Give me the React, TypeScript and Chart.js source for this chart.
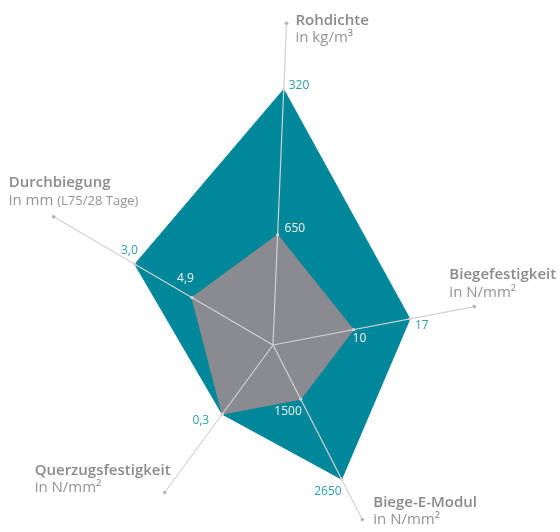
import React, { useEffect, useRef } from 'react';
import { Chart, registerables, RadialLinearScale } from 'chart.js';

// ---- data ----
const AXIS_TITLES = ['Rohdichte', 'Biegefestigkeit', 'Biege-E-Modul', 'Querzugsfestigkeit', 'Durchbiegung'];
const AXIS_UNITS = ['in kg/m³', 'in N/mm²', 'in N/mm²', 'in N/mm²', 'in mm'];
const AXIS_UNIT_NOTES = ['', '', '', '', '(L75/28 Tage)'];
// value found at the centre and at the outer end of each axis
const AXIS_FROM = [900, 0, 720, 0, 7.6];
const AXIS_TO = [170, 25, 3230, 0.64, 0.3];
const AXIS_DECIMALS = [0, 0, 0, 1, 1];

const OUTER_VALUES = [320, 17, 2650, 0.3, 3.0];
const INNER_VALUES = [650, 10, 1500, 0.3, 4.9];

// ---- style / layout ----
const AXIS_ANGLE_DEG = [2.4, 79.2, 152.9, 216.3, 300.3];
const AXIS_LENGTH = [322, 205, 196, 183, 254];
const R_MAX = 346;
const TEAL = '#00879a';
const GREY = '#898b90';
const TEAL_TEXT = '#2f9db0';
const INNER_TEXT = '#f2f2f2';
const TITLE_COLOR = '#8a8a8a';
const UNIT_COLOR = '#939393';
const AXIS_COLOR = '#d2d2d2';
const FONT = '"Open Sans", "DejaVu Sans", sans-serif';

// [dx, dy, align] relative to the vertex
const OUTER_LABEL_POS: any[] = [[5, -4, 'left'], [5, 7, 'left'], [0, 12, 'right'], [-13, 6, 'right'], [3, -14, 'right']];
const INNER_LABEL_POS: any[] = [[7, -6, 'left'], [-1, 9, 'left'], [1, 12, 'right'], null, [2, -19, 'right']];
// [dx, title baseline dy, unit baseline dy] relative to the axis end
const TITLE_POS = [[9, 2, 19], [-25, -28, -10], [11, -12, 5], [-130, -17, 0], [-45, -30, -12]];

class SkewedRadialScale extends RadialLinearScale {
  static id = 'skewedRadial';
  getIndexAngle(index: number) {
    const a = AXIS_ANGLE_DEG[index % AXIS_ANGLE_DEG.length];
    return (a * Math.PI) / 180;
  }
}

Chart.register(...registerables, SkewedRadialScale);

const fmt = (v: number, i: number) => v.toFixed(AXIS_DECIMALS[i]).replace('.', ',');

const overlayPlugin = {
  id: 'overlay',
  afterDatasetsDraw(chart: any) {
    const scale = chart.scales.r;
    const ctx = chart.ctx as CanvasRenderingContext2D;
    ctx.save();
    // axis lines
    AXIS_TITLES.forEach((_, i) => {
      const end = scale.getPointPosition(i, scale.getDistanceFromCenterForValue(AXIS_LENGTH[i]));
      ctx.beginPath();
      ctx.strokeStyle = AXIS_COLOR;
      ctx.lineWidth = 1.2;
      ctx.moveTo(scale.xCenter, scale.yCenter);
      ctx.lineTo(end.x, end.y);
      ctx.stroke();
      ctx.beginPath();
      ctx.fillStyle = '#b4b4b4';
      ctx.arc(end.x, end.y, 1.8, 0, Math.PI * 2);
      ctx.fill();
    });
    // value labels
    const drawValues = (dsIndex: number, values: number[], pos: any[], color: string) => {
      const meta = chart.getDatasetMeta(dsIndex);
      ctx.font = `400 12px ${FONT}`;
      ctx.fillStyle = color;
      ctx.textBaseline = 'middle';
      values.forEach((v, i) => {
        const p = pos[i];
        if (!p) return;
        const pt = meta.data[i];
        ctx.textAlign = p[2];
        ctx.fillText(fmt(v, i), pt.x + p[0], pt.y + p[1]);
      });
    };
    drawValues(1, OUTER_VALUES, OUTER_LABEL_POS, TEAL_TEXT);
    drawValues(0, INNER_VALUES, INNER_LABEL_POS, INNER_TEXT);
    // axis titles
    ctx.textBaseline = 'alphabetic';
    ctx.textAlign = 'left';
    AXIS_TITLES.forEach((title, i) => {
      const end = scale.getPointPosition(i, scale.getDistanceFromCenterForValue(AXIS_LENGTH[i]));
      const [dx, ty, uy] = TITLE_POS[i];
      const x = end.x + dx;
      ctx.font = `600 15px ${FONT}`;
      ctx.fillStyle = TITLE_COLOR;
      ctx.fillText(title, x, end.y + ty);
      ctx.font = `400 15px ${FONT}`;
      ctx.fillStyle = UNIT_COLOR;
      const unit = AXIS_UNITS[i];
      ctx.fillText(unit, x, end.y + uy);
      if (AXIS_UNIT_NOTES[i]) {
        const w = ctx.measureText(unit + ' ').width;
        ctx.font = `400 13px ${FONT}`;
        ctx.fillText(AXIS_UNIT_NOTES[i], x + w, end.y + uy);
      }
    });
    ctx.restore();
  },
};

const toRadius = (vals: number[]) =>
  vals.map((v, i) => ((v - AXIS_FROM[i]) / (AXIS_TO[i] - AXIS_FROM[i])) * AXIS_LENGTH[i]);

export default function App() {
  const ref = useRef<HTMLCanvasElement>(null);
  useEffect(() => {
    if (!ref.current) return;
    const chart = new Chart(ref.current, {
      type: 'radar',
      data: {
        labels: AXIS_TITLES,
        datasets: [
          {
            label: 'Vergleich',
            data: toRadius(INNER_VALUES),
            backgroundColor: GREY,
            borderColor: GREY,
            borderWidth: 1,
            fill: true,
            pointRadius: 1.6,
            pointBackgroundColor: '#d6d6d6',
            pointBorderWidth: 0,
          },
          {
            label: 'Produkt',
            data: toRadius(OUTER_VALUES),
            backgroundColor: TEAL,
            borderColor: TEAL,
            borderWidth: 1,
            fill: true,
            pointRadius: 1.6,
            pointBackgroundColor: '#cfcfcf',
            pointBorderWidth: 0,
          },
        ],
      },
      options: {
        animation: false,
        responsive: false,
        layout: { padding: 0 },
        plugins: { legend: { display: false }, tooltip: { enabled: false } },
        elements: { line: { tension: 0 } },
        scales: {
          r: {
            type: 'skewedRadial',
            min: 0,
            max: R_MAX,
            grid: { display: false },
            angleLines: { display: false },
            ticks: { display: false },
            pointLabels: { display: false },
          },
        },
      } as any,
      plugins: [overlayPlugin],
    });
    return () => chart.destroy();
  }, []);
  return (
    <div style={{ position: 'fixed', left: 0, top: 0, width: 560, height: 532, overflow: 'hidden', background: '#fff' }}>
      <canvas ref={ref} width={692} height={692} style={{ position: 'absolute', left: -73, top: -1 }} />
    </div>
  );
}
